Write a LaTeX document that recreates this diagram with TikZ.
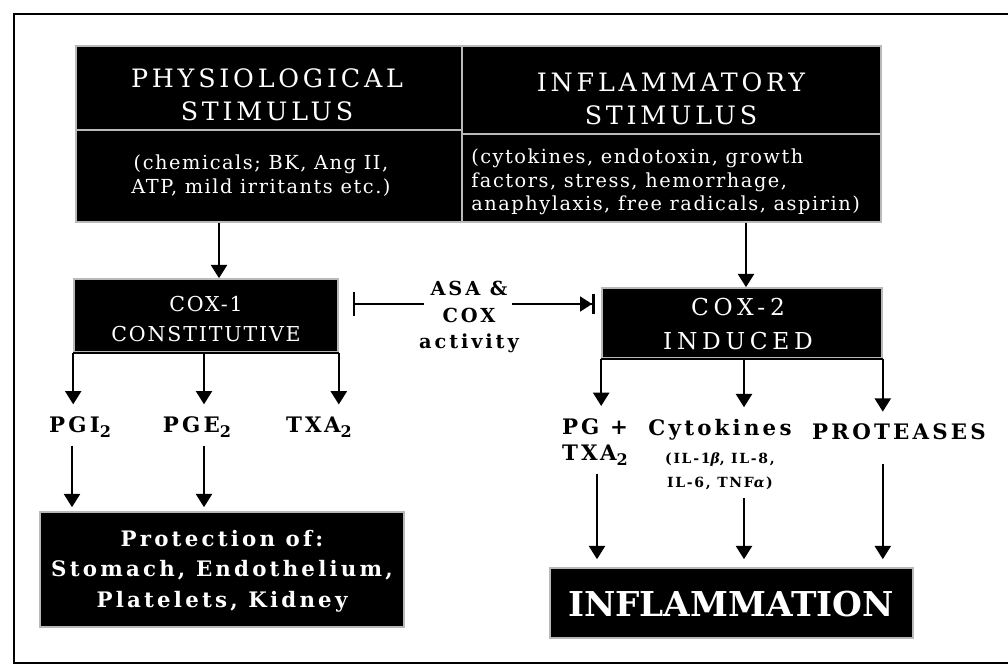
\documentclass[tikz,border=0pt]{standalone}
\usepackage{fontspec}
\setmainfont{DejaVu Serif}
\newfontfamily\hdrfont[LetterSpace=15]{DejaVu Serif}
\newfontfamily\prnfont[LetterSpace=8]{DejaVu Serif}
\newfontfamily\coxfont[LetterSpace=9]{DejaVu Serif}
\newfontfamily\coxbfont[LetterSpace=20]{DejaVu Serif}
\newfontfamily\lblfont[LetterSpace=15]{DejaVu Serif}
\newfontfamily\smlfont[LetterSpace=12]{DejaVu Serif}
\newcommand\subtwo{\raisebox{-0.45ex}{\fontsize{12}{12}\selectfont 2}}
\usetikzlibrary{arrows.meta,fit}
\begin{document}
\begin{tikzpicture}[x=0.75pt,y=-0.75pt,
  blk/.style={fill=black, draw=gray!55, line width=1.2pt, inner sep=0pt},
  wt/.style={text=white, align=center, inner sep=0pt},
  lbl/.style={font=\lblfont\bfseries\fontsize{16}{20}\selectfont, align=center, inner sep=0pt},
  arr/.style={line width=1.8pt, -{Triangle[width=12pt,length=10pt]}},
  ln/.style={line width=1.8pt},
  ]
\useasboundingbox (0,0) rectangle (1008,669);
\draw[line width=1.6pt] (1010,14) -- (14,14) -- (14,663) -- (1010,663);

% top stimulus table
\node[blk, fit={(76,46)(462,130)}] (physH) {};
\node[blk, fit={(76,130)(462,222)}] (physB) {};
\node[blk, fit={(462,46)(881,134)}] (inflH) {};
\node[blk, fit={(462,134)(881,222)}] (inflB) {};
\node[wt, font=\hdrfont\fontsize{19}{24.75}\selectfont] (physHt) at (267,95) {PHYSIOLOGICAL\\STIMULUS};
\node[wt, font=\prnfont\fontsize{14.5}{18}\selectfont] (physBt) at (261,176) {(chemicals; BK, Ang II,\\ATP, mild irritants etc.)};
\node[wt, font=\hdrfont\fontsize{19}{24.75}\selectfont] (inflHt) at (671,99) {INFLAMMATORY\\STIMULUS};
\node[wt, anchor=west, align=left, font=\prnfont\fontsize{14.5}{17.5}\selectfont] (inflBt) at (471,182) {(cytokines, endotoxin, growth\\factors, stress, hemorrhage,\\anaphylaxis, free radicals, aspirin)};

% COX boxes
\node[blk, fit={(74,279)(338,352)}] (cox1) {};
\node[wt, font=\coxfont\fontsize{15.4}{22}\selectfont] (cox1t) at (206,319) {COX-1\\CONSTITUTIVE};
\node[blk, fit={(602,288)(882,358)}] (cox2) {};
\node[wt, font=\coxbfont\fontsize{17.5}{26}\selectfont] (cox2t) at (738,324) {COX-2\\INDUCED};

\coordinate (x1) at (219,0);
\coordinate (x2) at (746,0);
\draw[arr] (physB.south -| x1) -- (cox1.north -| x1);
\draw[arr] (inflB.south -| x2) -- (cox2.north -| x2);

% ASA
\node[lbl, font=\lblfont\bfseries\fontsize{14.5}{20}\selectfont] (asa) at (469,317) {ASA \&\\COX\\activity};
\coordinate (asaL) at (424,304);
\coordinate (asaR) at (512,304);
\draw[ln, -{Bar[width=18pt,line width=1.8pt]}, shorten >=10.5pt] (asaL) -- (cox1.east |- asaL);
\draw[ln, -{Triangle[width=11pt,length=9pt] Bar[width=15pt,line width=1.8pt]}, shorten >=5pt] (asaR) -- (cox2.west |- asaR);

% COX-1 products
\node[lbl] (pgi) at (80,427) {PGI\subtwo};
\node[lbl] (pge) at (197,427) {PGE\subtwo};
\node[lbl] (txa) at (319,427) {TXA\subtwo};
\coordinate (x3) at (204,0);
\draw[ln] (cox1.south west) -- (cox1.south east);
\draw[arr, shorten >=9pt] (cox1.south west) -- (cox1.south west |- pgi.north);
\draw[arr, shorten >=9pt] (cox1.south -| x3) -- (pge.north -| x3);
\draw[arr, shorten >=9pt] (cox1.south east) -- (cox1.south east |- txa.north);

\node[blk, fit={(40,512)(404,627)}] (prot) {};
\node[wt, font=\lblfont\bfseries\fontsize{16}{23}\selectfont] (prott) at (222,571) {Protection of:\\Stomach, Endothelium,\\Platelets, Kidney};
\coordinate (x4) at (72,0);
\draw[arr, shorten <=6pt, shorten >=3pt] (pgi.south -| x4) -- (prot.north -| x4);
\draw[arr, shorten <=6pt, shorten >=3pt] (pge.south -| x3) -- (prot.north -| x3);

% COX-2 products
\node[lbl] (pg) at (595,442) {PG +\\TXA\subtwo};
\node[lbl] (cyto) at (720,430) {Cytokines};
\node[lbl, font=\smlfont\bfseries\fontsize{10.5}{18}\selectfont] (cytosub) at (720,471) {(IL-1\textit{β}, IL-8,\\IL-6, TNF\textit{α})};
\node[lbl] (prote) at (899,432) {PROTEASES};
\draw[ln] (cox2.south west) -- (cox2.south east);
\coordinate (x5) at (744,0);
\draw[arr, shorten >=9pt] (cox2.south west) -- (cox2.south west |- pg.north);
\draw[arr, shorten >=9pt] (cox2.south -| x5) -- (cyto.north -| x5);
\draw[arr, shorten >=9pt] (cox2.south east) -- (cox2.south east |- prote.north);

\node[blk, fit={(550,568)(913,638)}] (infl) {};
\node[wt, font=\bfseries\fontsize{25.7}{30}\selectfont] (inflt) at (731,604) {INFLAMMATION};
\coordinate (x6) at (597,0);
\draw[arr, shorten <=6pt, shorten >=6pt] (pg.south -| x6) -- (infl.north -| x6);
\draw[arr, shorten <=6pt, shorten >=6pt] (cytosub.south -| x5) -- (infl.north -| x5);
\draw[arr, shorten <=18pt, shorten >=6pt] (prote.south -| cox2.south east) -- (infl.north -| cox2.south east);
\end{tikzpicture}
\end{document}
